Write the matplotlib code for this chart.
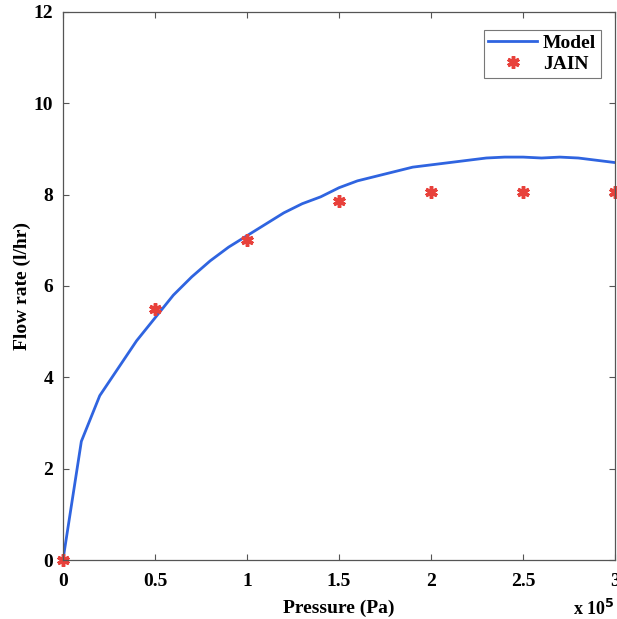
import numpy as np
import matplotlib.pyplot as plt

plt.rcParams['font.family'] = ['Liberation Serif', 'DejaVu Serif']
plt.rcParams['font.weight'] = 'bold'

# pressure in units of 1e5 Pa
model_p = [0, 0.1, 0.2, 0.3, 0.4, 0.5, 0.6, 0.7, 0.8, 0.9, 1.0, 1.1, 1.2, 1.3, 1.4, 1.5,
           1.6, 1.7, 1.8, 1.9, 2.0, 2.1, 2.2, 2.3, 2.4, 2.5, 2.6, 2.7, 2.8, 2.9, 3.0]
model_q = [0, 2.6, 3.6, 4.2, 4.8, 5.3, 5.8, 6.2, 6.55, 6.85, 7.1, 7.35, 7.6, 7.8, 7.95, 8.15,
           8.3, 8.4, 8.5, 8.6, 8.65, 8.7, 8.75, 8.8, 8.82, 8.82, 8.8, 8.82, 8.8, 8.75, 8.7]
jain_p = [0, 0.5, 1.0, 1.5, 2.0, 2.5, 3.0]
jain_q = [0, 5.5, 7.0, 7.85, 8.05, 8.05, 8.05]

fig = plt.figure(figsize=(6.17, 6.19), dpi=100)
ax = fig.add_axes([0.102, 0.095, 0.895, 0.886])

ax.plot(model_p, model_q, color='#2f64e0', lw=2, label='Model')
ax.plot(jain_p, jain_q, ls='none', marker=(6, 2, 0), ms=9, mew=2.5,
        color='#e8413b', label='JAIN', clip_on=False)

ax.set_xlim(0, 3)
ax.set_ylim(0, 12)
ax.set_xticks([0, 0.5, 1, 1.5, 2, 2.5, 3])
ax.set_xticklabels(['0', '0.5', '1', '1.5', '2', '2.5', '3'])
ax.set_yticks([0, 2, 4, 6, 8, 10, 12])
ax.tick_params(direction='in', top=True, right=True, labelsize=14, length=4,
               width=0.8, color='#555555')
ax.tick_params(axis='x', pad=9)
ax.tick_params(axis='y', pad=7)
for s in ax.spines.values():
    s.set_color('#555555')
    s.set_linewidth(0.9)

ax.set_xlabel('Pressure (Pa)', fontsize=14, fontweight='bold', labelpad=7)
ax.set_ylabel('Flow rate (l/hr)', fontsize=14, fontweight='bold', labelpad=2)
fig.text(0.928, 0.0, r'x 10$^5$', fontsize=13, fontweight='bold', va='bottom')

leg = ax.legend(loc='upper right', fontsize=14, frameon=True, fancybox=False,
                edgecolor='#555555', borderpad=0.25, handlelength=2.5,
                handletextpad=0.3, labelspacing=0.15, bbox_to_anchor=(0.992, 0.985))
leg.get_frame().set_linewidth(0.8)

fig.savefig('out.png', dpi=100)
